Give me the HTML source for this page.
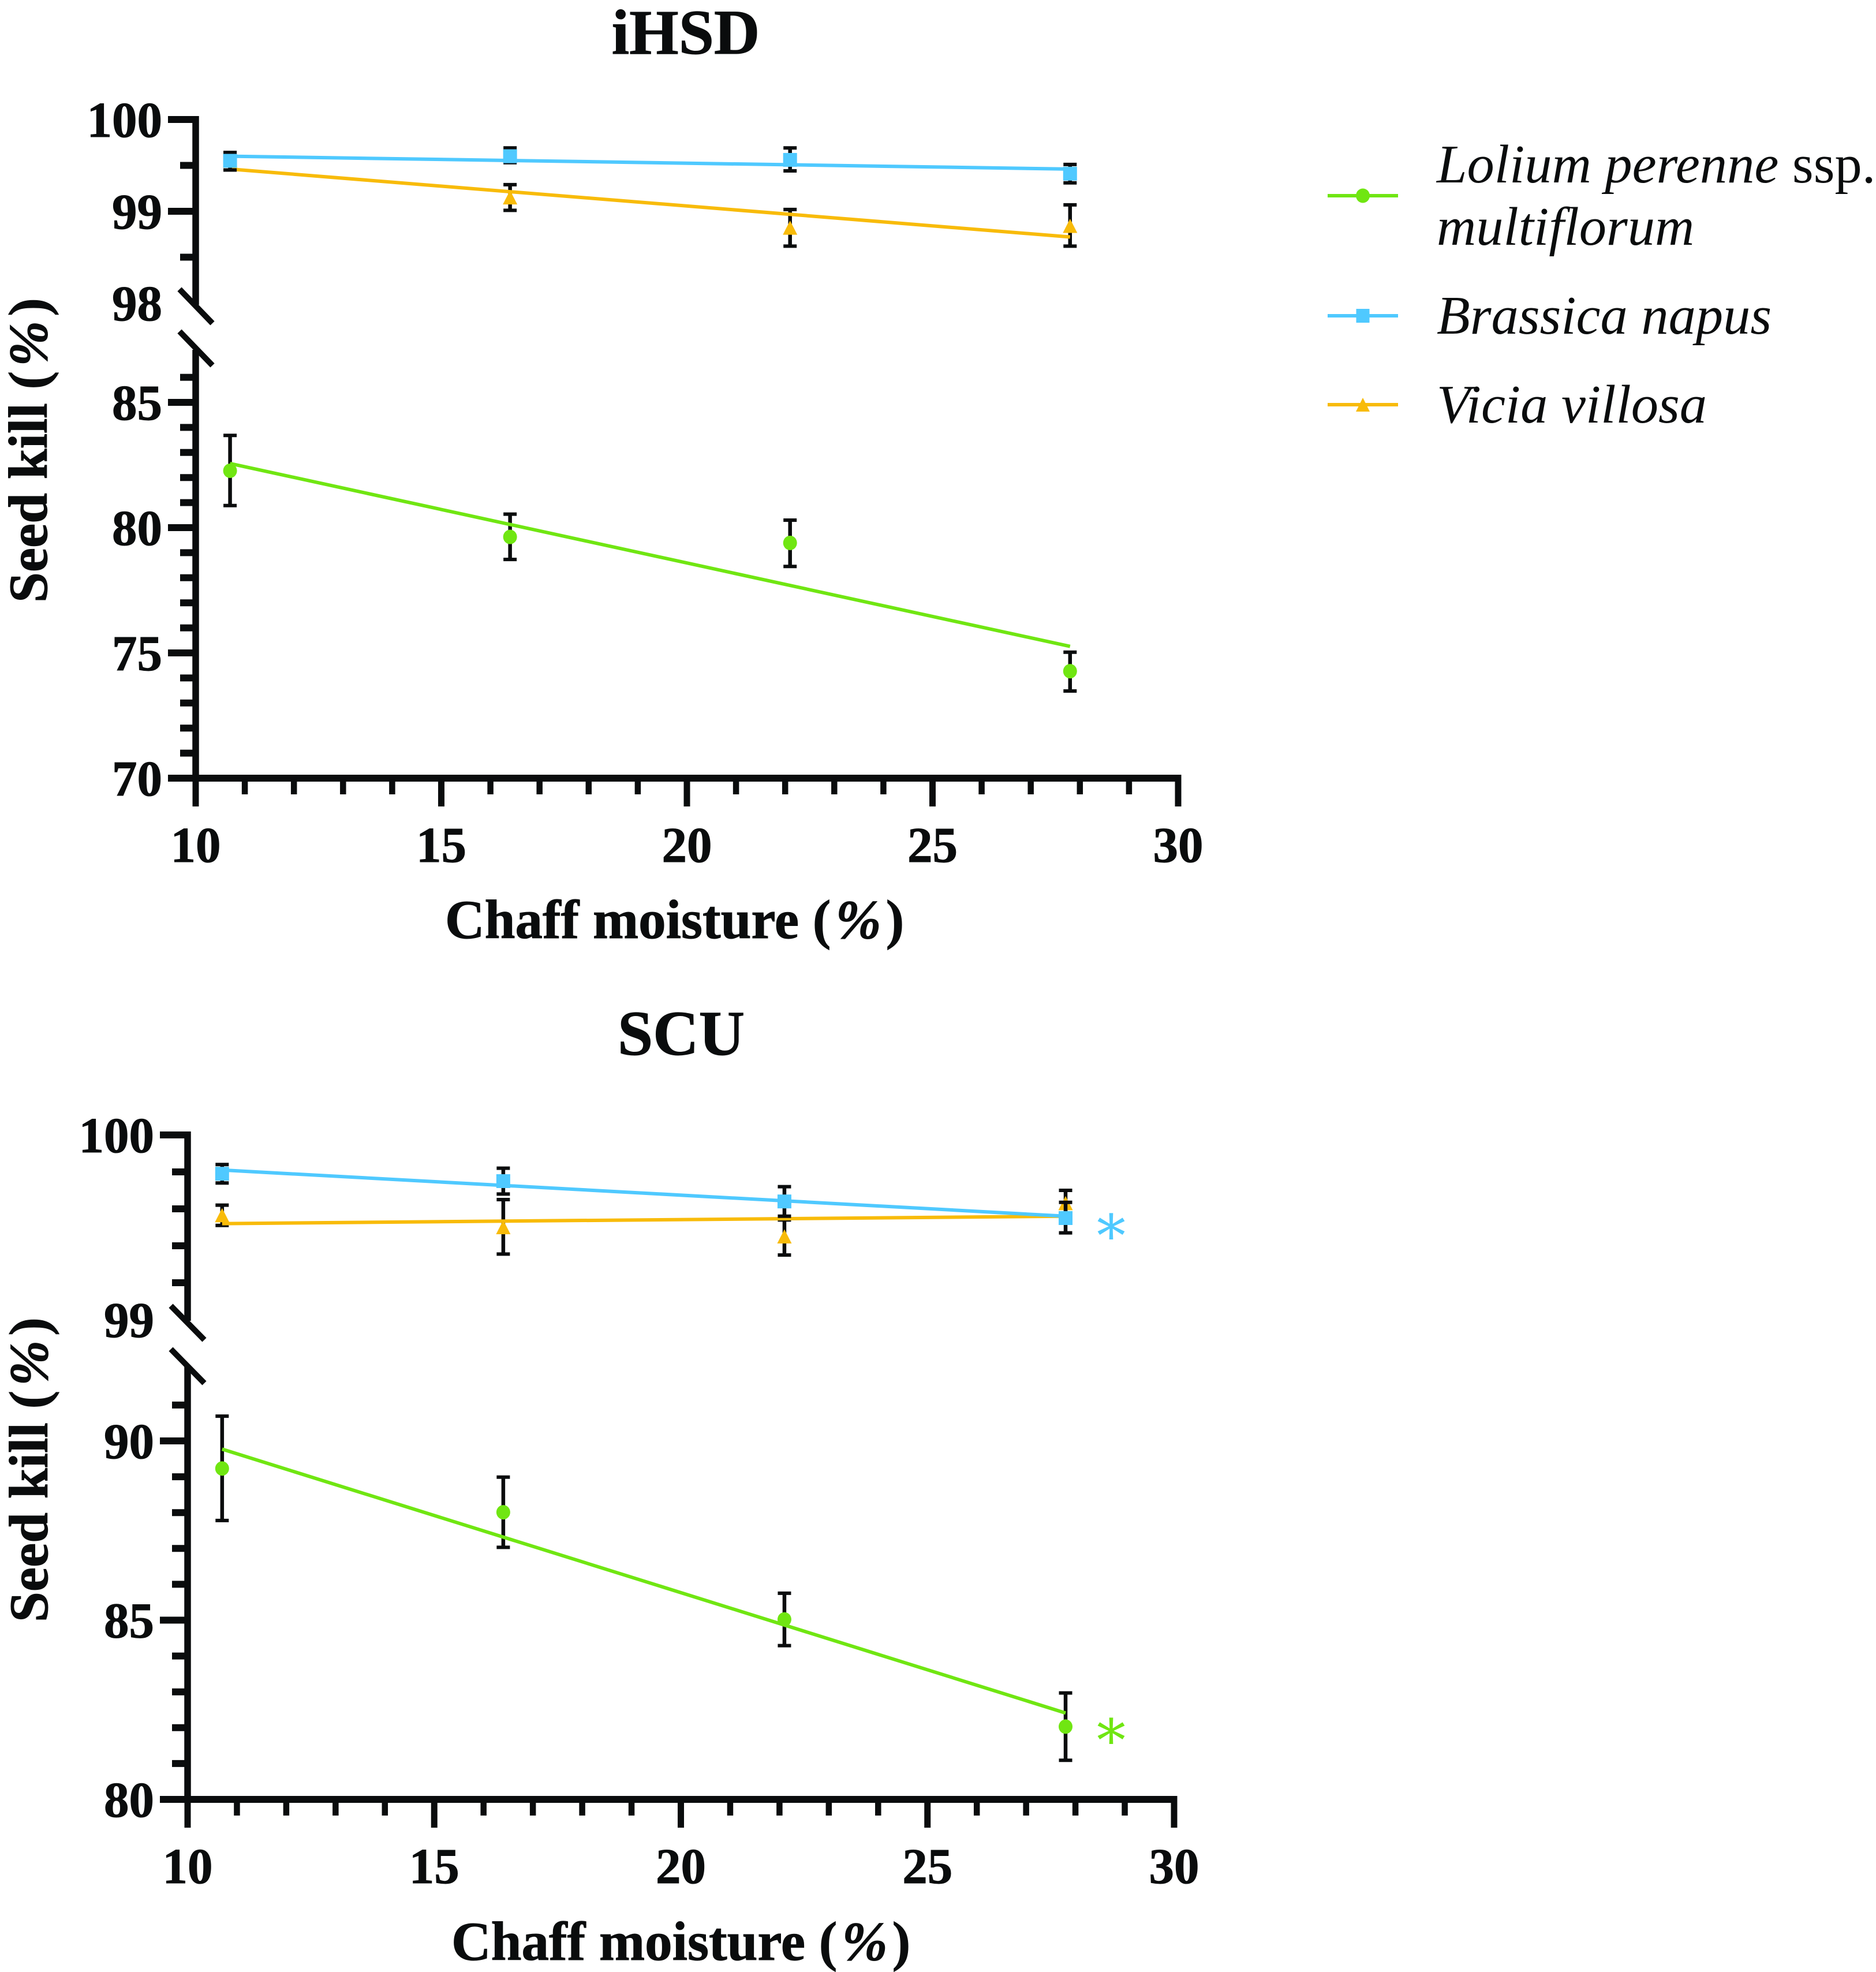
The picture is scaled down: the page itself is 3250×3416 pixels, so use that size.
<!DOCTYPE html>
<html lang="en">
<head>
<meta charset="utf-8">
<title>Seed kill vs chaff moisture</title>
<style>
html,body{margin:0;padding:0;background:#fff;}
svg{display:block;}
text{font-family:"Liberation Serif",serif;fill:#0a0c0d;}
.tick{font-weight:bold;font-size:87px;stroke:#0a0c0d;stroke-width:1;}
.title{font-weight:bold;font-size:110px;stroke:#0a0c0d;stroke-width:1;}
.axt{font-weight:bold;font-size:95px;stroke:#0a0c0d;stroke-width:1;}
.leg{font-size:94.5px;font-style:italic;}
.star{font-family:"DejaVu Serif","Liberation Serif",serif;font-size:100px;}
</style>
</head>
<body>
<svg id="chart" xmlns="http://www.w3.org/2000/svg" width="3250" height="3416" viewBox="0 0 3250 3416">
  <rect width="3250" height="3416" fill="#fff"/>
  <g id="ihsd">
    <text class="title" x="1188" y="93" text-anchor="middle">iHSD</text>
    <text class="axt" x="771" y="1625">Chaff moisture (<tspan font-style="italic" dx="8">%</tspan><tspan dx="8">)</tspan></text>
    <text class="axt" transform="translate(81 1044) rotate(-90)">Seed kill (<tspan font-style="italic" dx="8">%</tspan><tspan dx="8">)</tspan></text>
  </g>
  <g id="scu">
    <text class="title" x="1180" y="1827" text-anchor="middle">SCU</text>
    <text class="axt" x="782" y="3395">Chaff moisture (<tspan font-style="italic" dx="8">%</tspan><tspan dx="8">)</tspan></text>
    <text class="axt" transform="translate(82 2810) rotate(-90)">Seed kill (<tspan font-style="italic" dx="8">%</tspan><tspan dx="8">)</tspan></text>
    <text class="star" x="1925" y="2176" text-anchor="middle" style="fill:#4fc9ff">*</text>
    <text class="star" x="1925" y="3050" text-anchor="middle" style="fill:#70e612">*</text>
  </g>
  <g id="legend">
    <g>
      <line x1="2300" x2="2422" y1="339" y2="339" stroke="#70e612" stroke-width="6"/>
      <ellipse cx="2361" cy="339" rx="12" ry="12.5" fill="#70e612"/>
      <text class="leg" x="2489" y="316">Lolium perenne <tspan font-style="normal">ssp.</tspan></text>
      <text class="leg" x="2489" y="424">multiflorum</text>
    </g>
    <g>
      <line x1="2300" x2="2422" y1="547" y2="547" stroke="#4fc9ff" stroke-width="6"/>
      <rect x="2349.5" y="535" width="23" height="24" fill="#4fc9ff"/>
      <text class="leg" x="2489" y="578">Brassica napus</text>
    </g>
    <g>
      <line x1="2300" x2="2422" y1="701" y2="701" stroke="#f8bb0a" stroke-width="6"/>
      <polygon points="2361,689 2373,713 2349,713" fill="#f8bb0a"/>
      <text class="leg" x="2489" y="732">Vicia villosa</text>
    </g>
  </g>
</svg>
<script>
// Shared x values
const moisture = [10.7, 16.4, 22.1, 27.8];
const xTickLabels = [10, 15, 20, 25, 30];
const xMinorTicks = [11, 12, 13, 14, 16, 17, 18, 19, 21, 22, 23, 24, 26, 27, 28, 29];
const fitEnds = [10.7, 27.8];

// iHSD data
const ihsdLoliumMean = [82.27, 79.63, 79.39, 74.27];
const ihsdLoliumLow = [80.88, 78.73, 78.45, 73.48];
const ihsdLoliumHigh = [83.68, 80.54, 80.30, 75.03];
const ihsdLoliumFit = [82.56, 75.26];
const ihsdBrassicaMean = [99.55, 99.60, 99.56, 99.41];
const ihsdBrassicaLow = [99.45, 99.53, 99.44, 99.31];
const ihsdBrassicaHigh = [99.64, 99.69, 99.69, 99.51];
const ihsdBrassicaFit = [99.60, 99.46];
const ihsdViciaMean = [99.55, 99.15, 98.82, 98.84];
const ihsdViciaLow = [99.45, 99.01, 98.62, 98.62];
const ihsdViciaHigh = [99.64, 99.29, 99.02, 99.07];
const ihsdViciaFit = [99.46, 98.72];
const ihsdUpperMajor = [100, 99];
const ihsdUpperMinor = [99.5, 98.5];
const ihsdUpperLabels = [100, 99, 98];
const ihsdLowerMajor = [85, 80, 75, 70];
const ihsdLowerMinor = [86, 84, 83, 82, 81, 79, 78, 77, 76, 74, 73, 72, 71];

// SCU data
const scuLoliumMean = [89.23, 88.01, 85.02, 82.03];
const scuLoliumLow = [87.78, 87.03, 84.29, 81.09];
const scuLoliumHigh = [90.69, 88.99, 85.75, 82.97];
const scuLoliumFit = [89.77, 82.41];
const scuBrassicaMean = [99.79, 99.75, 99.64, 99.55];
const scuBrassicaLow = [99.74, 99.68, 99.56, 99.47];
const scuBrassicaHigh = [99.84, 99.82, 99.72, 99.635];
const scuBrassicaFit = [99.81, 99.56];
const scuViciaMean = [99.565, 99.50, 99.45, 99.63];
const scuViciaLow = [99.51, 99.355, 99.35, 99.56];
const scuViciaHigh = [99.62, 99.65, 99.54, 99.70];
const scuViciaFit = [99.52, 99.56];
const scuUpperMajor = [100];
const scuUpperMinor = [99.8, 99.6, 99.4, 99.2];
const scuUpperLabels = [100, 99];
const scuLowerMajor = [90, 85, 80];
const scuLowerMinor = [91, 89, 88, 87, 86, 84, 83, 82, 81];

const NS = 'http://www.w3.org/2000/svg';
const INK = '#0a0c0d';
const GREEN = '#70e612';
const BLUE = '#4fc9ff';
const ORANGE = '#f8bb0a';

function make(parent, tag, attrs) {
  const el = document.createElementNS(NS, tag);
  for (const k in attrs) el.setAttribute(k, attrs[k]);
  parent.appendChild(el);
  return el;
}

function ihsdX(v) { return 339 + (v - 10) * 85.1; }
function ihsdUpperY(v) { return 207 + (100 - v) * 159; }
function ihsdLowerY(v) { return 1348 - (v - 70) * 43.4; }
function scuX(v) { return 325 + (v - 10) * 85.45; }
function scuUpperY(v) { return 1966 + (100 - v) * 320; }
function scuLowerY(v) { return 3117 - (v - 80) * 62.1; }

function drawTick(g, x1, x2, y, name) {
  const t = make(g, 'line', { x1: x1, x2: x2, y1: y, y2: y, stroke: INK, 'stroke-width': 12 });
  
  
}

function drawAxes(root, p) {
  const g = make(root, 'g', {});
  
  
  const ax = p.x(10);
  const lines = [
    [ax, p.upperY(100) - 6, ax, p.axisBreakTop, 11.5],
    [ax, p.axisBreakBottom, ax, p.lowerY(p.lowerMin) + 6, 11.5],
    [ax + p.slashX1, p.slashTop1, ax + p.slashX2, p.slashTop1 + 59, 10],
    [ax + p.slashX1, p.slashTop2, ax + p.slashX2, p.slashTop2 + 59, 10],
    [ax - 5.5, p.lowerY(p.lowerMin), p.x(30) + 5.5, p.lowerY(p.lowerMin), 12]
  ];
  lines.forEach(function (c) {
    const l = make(g, 'line', { x1: c[0], y1: c[1], x2: c[2], y2: c[3], stroke: INK, 'stroke-width': c[4] });
    
    
  });
  const majorL = ax - 48, minorL = ax - 27;
  p.upperMajor.forEach(function (v) { drawTick(g, majorL, ax, p.upperY(v), p.id + '-y-major-tick'); });
  p.upperMinor.forEach(function (v) { drawTick(g, minorL, ax, p.upperY(v), p.id + '-y-minor-tick'); });
  p.lowerMajor.forEach(function (v) { drawTick(g, majorL, ax, p.lowerY(v), p.id + '-y-major-tick'); });
  p.lowerMinor.forEach(function (v) { drawTick(g, minorL, ax, p.lowerY(v), p.id + '-y-minor-tick'); });
  const labelX = ax - 58;
  p.upperLabels.forEach(function (v) {
    const t = make(g, 'text', { x: labelX, y: p.upperY(v) + 30, 'text-anchor': 'end', class: 'tick' });
    t.textContent = v;
    
    
  });
  p.lowerMajor.forEach(function (v) {
    const t = make(g, 'text', { x: labelX, y: p.lowerY(v) + 30, 'text-anchor': 'end', class: 'tick' });
    t.textContent = v;
    
    
  });
  const base = p.lowerY(p.lowerMin);
  xTickLabels.forEach(function (v) {
    const m = make(g, 'line', { x1: p.x(v), x2: p.x(v), y1: base, y2: base + 49, stroke: INK, 'stroke-width': 11 });
    
    
    const t = make(g, 'text', { x: p.x(v), y: base + 145, 'text-anchor': 'middle', class: 'tick' });
    t.textContent = v;
    
    
  });
  xMinorTicks.forEach(function (v) {
    const m = make(g, 'line', { x1: p.x(v), x2: p.x(v), y1: base, y2: base + 28, stroke: INK, 'stroke-width': 10.5 });
    
    
  });
}

function drawSeries(root, p, s) {
  const g = make(root, 'g', {});
  
  
  moisture.forEach(function (mx, i) {
    const x = p.x(mx);
    const hi = s.y(s.high[i]), lo = s.y(s.low[i]), c = s.y(s.mean[i]);
    const stem = make(g, 'line', { x1: x, x2: x, y1: hi, y2: lo, stroke: INK, 'stroke-width': 6.5 });
    
    
    [hi, lo].forEach(function (yy) {
      const cap = make(g, 'line', { x1: x - 11.5, x2: x + 11.5, y1: yy, y2: yy, stroke: INK, 'stroke-width': 6 });
      
      
    });
    let mark;
    if (s.shape === 'circle') {
      mark = make(g, 'ellipse', { cx: x, cy: c, rx: 12, ry: 12.5, fill: s.color });
    } else if (s.shape === 'square') {
      mark = make(g, 'rect', { x: x - 12, y: c - 12, width: 24, height: 24, fill: s.color });
    } else {
      mark = make(g, 'polygon', { points: x + ',' + (c - 12.5) + ' ' + (x + 12.5) + ',' + (c + 12) + ' ' + (x - 12.5) + ',' + (c + 12), fill: s.color });
    }
    
    
  });
  const fit = make(g, 'line', {
    x1: p.x(fitEnds[0]), y1: s.y(s.fit[0]),
    x2: p.x(fitEnds[1]), y2: s.y(s.fit[1]),
    stroke: s.color, 'stroke-width': 6
  });
  
  
}

const ihsdPanel = {
  id: 'ihsd', x: ihsdX, upperY: ihsdUpperY, lowerY: ihsdLowerY, lowerMin: 70,
  axisBreakTop: 528, axisBreakBottom: 606,
  slashX1: -28, slashX2: 29, slashTop1: 501, slashTop2: 574,
  upperMajor: ihsdUpperMajor, upperMinor: ihsdUpperMinor, upperLabels: ihsdUpperLabels,
  lowerMajor: ihsdLowerMajor, lowerMinor: ihsdLowerMinor
};
const scuPanel = {
  id: 'scu', x: scuX, upperY: scuUpperY, lowerY: scuLowerY, lowerMin: 80,
  axisBreakTop: 2288, axisBreakBottom: 2367,
  slashX1: -29, slashX2: 29, slashTop1: 2262, slashTop2: 2337,
  upperMajor: scuUpperMajor, upperMinor: scuUpperMinor, upperLabels: scuUpperLabels,
  lowerMajor: scuLowerMajor, lowerMinor: scuLowerMinor
};

const ihsdRoot = document.getElementById('ihsd');
const scuRoot = document.getElementById('scu');
drawAxes(ihsdRoot, ihsdPanel);
drawAxes(scuRoot, scuPanel);

drawSeries(ihsdRoot, ihsdPanel, { name: 'lolium', shape: 'circle', color: GREEN, y: ihsdLowerY, mean: ihsdLoliumMean, low: ihsdLoliumLow, high: ihsdLoliumHigh, fit: ihsdLoliumFit });
drawSeries(ihsdRoot, ihsdPanel, { name: 'vicia', shape: 'triangle', color: ORANGE, y: ihsdUpperY, mean: ihsdViciaMean, low: ihsdViciaLow, high: ihsdViciaHigh, fit: ihsdViciaFit });
drawSeries(ihsdRoot, ihsdPanel, { name: 'brassica', shape: 'square', color: BLUE, y: ihsdUpperY, mean: ihsdBrassicaMean, low: ihsdBrassicaLow, high: ihsdBrassicaHigh, fit: ihsdBrassicaFit });

drawSeries(scuRoot, scuPanel, { name: 'lolium', shape: 'circle', color: GREEN, y: scuLowerY, mean: scuLoliumMean, low: scuLoliumLow, high: scuLoliumHigh, fit: scuLoliumFit });
drawSeries(scuRoot, scuPanel, { name: 'vicia', shape: 'triangle', color: ORANGE, y: scuUpperY, mean: scuViciaMean, low: scuViciaLow, high: scuViciaHigh, fit: scuViciaFit });
drawSeries(scuRoot, scuPanel, { name: 'brassica', shape: 'square', color: BLUE, y: scuUpperY, mean: scuBrassicaMean, low: scuBrassicaLow, high: scuBrassicaHigh, fit: scuBrassicaFit });
</script>
</body>
</html>
